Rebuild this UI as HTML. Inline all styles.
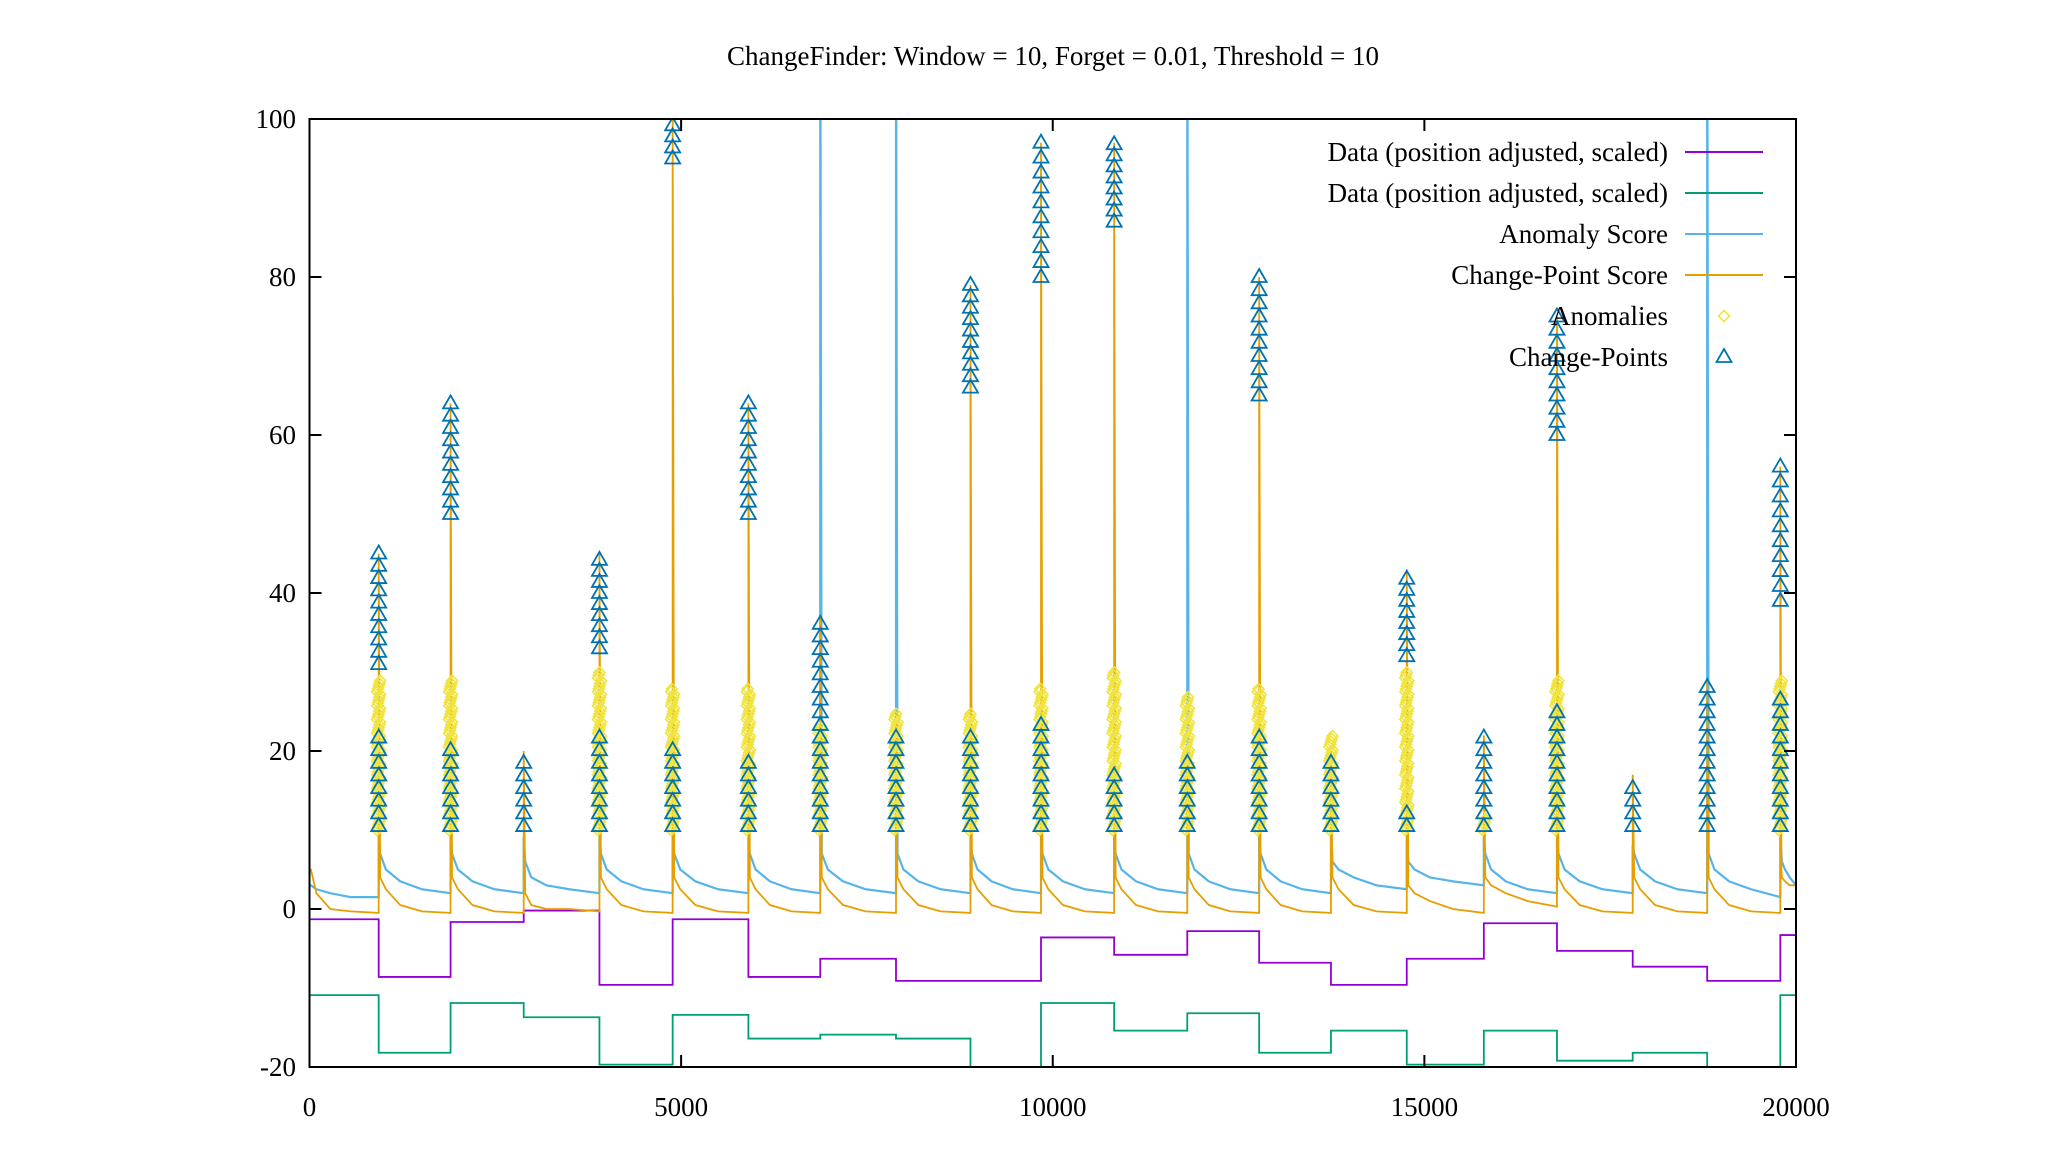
<!DOCTYPE html>
<html><head><meta charset="utf-8"><style>
html,body{margin:0;padding:0;background:#fff;}
svg{display:block;font-family:"Liberation Serif",serif;}
</style></head><body>
<svg id="chart" width="2048" height="1152" viewBox="0 0 2048 1152" xmlns="http://www.w3.org/2000/svg">
<defs><clipPath id="plotclip"><rect x="309.5" y="119" width="1486.5" height="948"/></clipPath></defs>
<text x="1053" y="65" font-size="27" text-anchor="middle">ChangeFinder: Window = 10, Forget = 0.01, Threshold = 10</text>
<g id="series" clip-path="url(#plotclip)"></g>
<g id="axes"></g>
<g id="legend"></g>
</svg>
<script>
const changeX=[0,931,1898,2882,3901,4886,5905,6872,7891,8893,9842,10826,11810,12777,13743,14763,15800,16784,17803,18805,19789,20000];
const purpleLevels=[-1.3,-8.6,-1.65,-0.2,-9.6,-1.3,-8.6,-6.3,-9.1,-9.1,-3.6,-5.8,-2.8,-6.8,-9.6,-6.3,-1.8,-5.3,-7.3,-9.1,-3.3];
const greenLevels=[-10.9,-18.2,-11.9,-13.7,-19.7,-13.4,-16.4,-15.9,-16.4,-21,-11.9,-15.4,-13.2,-18.2,-15.4,-19.7,-15.4,-19.2,-18.2,-21,-10.9];
const cpPeak=[45,64,20,45,100,64,37,25,79,97,97,20,80,20,43,22,75,17,29,56];
const cpUpperLow=[31,50,0,33,95,50,0,0,66,80,87,0,65,0,32,0,60,0,0,39];
const cpLowerTop=[23,21,19,22,21,20,37,23,23,24,18,20,22,20,13,22,25,16,29,27];
const anomHigh=[29,29,11,30,28,28,23,25,25,28,30,27,28,22,30,12,29,11,11,29];
const anomSpike=[10,10,9,10,10,9,120,120,9,10,9,120,9,10,9,9,9,8,120,9];
const sampleFrac=[0.02,0.1,0.3,0.6,1.0];
const anomSamples=[[3,2.5,2,1.5,1.5],[7,5,3.5,2.5,2],[7,5,3.5,2.5,2],[6,4,3,2.5,2],[7,5,3.5,2.5,2],[7,5,3.5,2.5,2],[7,5,3.5,2.5,2],[7,5,3.5,2.5,2],[7,5,3.5,2.5,2],[7,5,3.5,2.5,2],[7,5,3.5,2.5,2],[7,5,3.5,2.5,2],[7,5,3.5,2.5,2],[7,5,3.5,2.5,2],[6,5,4,3,2.5],[6,5,4,3.5,3],[7,5,3.5,2.5,2],[7,5,3.5,2.5,2],[7,5,3.5,2.5,2],[7,5,3.5,2.5,1.5],[7,6,5,4,3]];
const cpSamples=[[5,2,0,-0.3,-0.5],[4,2.5,0.5,-0.3,-0.5],[4,2.5,0.5,-0.3,-0.5],[2,0.5,0,0,-0.3],[4,2.5,0.5,-0.3,-0.5],[4,2.5,0.5,-0.3,-0.5],[4,2.5,0.5,-0.3,-0.5],[4,2.5,0.5,-0.3,-0.5],[4,2.5,0.5,-0.3,-0.5],[4,2.5,0.5,-0.3,-0.5],[4,2.5,0.5,-0.3,-0.5],[4,2.5,0.5,-0.3,-0.5],[4,2.5,0.5,-0.3,-0.5],[4,2.5,0.5,-0.3,-0.5],[4,2.5,0.5,-0.3,-0.5],[3,2,1,0,-0.5],[4,3,2,1,0.3],[4,2.5,0.5,-0.3,-0.5],[4,2.5,0.5,-0.3,-0.5],[4,2.5,0.5,-0.3,-0.5],[5,4,3.5,3,3]];
const xTicks=[0,5000,10000,15000,20000];
const yTicks=[-20,0,20,40,60,80,100];
const legendLabels=["Data (position adjusted, scaled)","Data (position adjusted, scaled)","Anomaly Score","Change-Point Score","Anomalies","Change-Points"];

const NS="http://www.w3.org/2000/svg";
const L=309.5,R=1796,T=119,B=1067;
const xs=v=>L+v/20000*(R-L);
const ys=v=>B-(v+20)/120*(B-T);
const C={purple:"#9400d3",green:"#009e73",blue:"#56b4e9",orange:"#e69f00",yellow:"#f0e442",tri:"#0072b2"};
function mk(tag,attrs,parent){const e=document.createElementNS(NS,tag);for(const k in attrs)e.setAttribute(k,attrs[k]);parent.appendChild(e);return e;}
const series=document.getElementById('series'),axes=document.getElementById('axes'),legend=document.getElementById('legend');

function stepPath(levels){let d="";for(let i=0;i<levels.length;i++){const y=ys(levels[i]);d+=(i?"L":"M")+xs(changeX[i])+","+y+"L"+xs(changeX[i+1])+","+y;}return d;}
let p=mk('path',{d:stepPath(purpleLevels),fill:"none",stroke:C.purple,"stroke-width":1.8},series);


p=mk('path',{d:stepPath(greenLevels),fill:"none",stroke:C.green,"stroke-width":1.8},series);



function scorePath(spikes,samples){let d="";for(let s=0;s<samples.length;s++){const a=changeX[s],b=changeX[s+1];if(s>0){d+="L"+xs(a)+","+ys(spikes[s-1]);}else{d+="M"+xs(a)+","+ys(samples[0][0]);}
for(let j=0;j<sampleFrac.length;j++){const x=a+Math.max(15,(b-a)*sampleFrac[j]);d+="L"+xs(Math.min(x,b))+","+ys(samples[s][j]);}}return d;}
p=mk('path',{d:scorePath(anomSpike,anomSamples),fill:"none",stroke:C.blue,"stroke-width":2.2,"stroke-linejoin":"round"},series);


p=mk('path',{d:scorePath(cpPeak,cpSamples),fill:"none",stroke:C.orange,"stroke-width":1.8},series);



function diamond(cx,cy,par){const r=5.5;return mk('path',{d:`M${cx},${cy-r}L${cx+r},${cy}L${cx},${cy+r}L${cx-r},${cy}Z`,fill:"none",stroke:C.yellow,"stroke-width":1.6},par);}
function tri(cx,cy,par){return mk('path',{d:`M${cx},${cy-8}L${cx+7.5},${cy+5}L${cx-7.5},${cy+5}Z`,fill:"none",stroke:C.tri,"stroke-width":1.8},par);}
for(let i=0;i<cpPeak.length;i++){
  const bx=changeX[i+1];
  const g=mk('g',{},series);
  
  
  if(anomHigh[i]>11){let k=0;for(let v=10;v<=anomHigh[i];v+=0.35){diamond(xs(bx+((k%5)-2)*10),ys(v),g);k++;}}
  const g2=mk('g',{},series);
  
  
  for(let v=10.5;v<=Math.min(cpLowerTop[i],cpPeak[i]);v+=1.6){tri(xs(bx),ys(v),g2);}
  if(cpUpperLow[i]>0){for(let v=cpUpperLow[i];v<=cpPeak[i]+0.1;v+=Math.max(1.4,(cpPeak[i]-cpUpperLow[i])/9)){tri(xs(bx),ys(v),g2);}}
}

const frame=mk('rect',{x:L,y:T,width:R-L,height:B-T,fill:"none",stroke:"#000","stroke-width":2},axes);


xTicks.forEach(v=>{const x=xs(v);mk('line',{x1:x,x2:x,y1:B,y2:B-12,stroke:"#000","stroke-width":2},axes);mk('line',{x1:x,x2:x,y1:T,y2:T+12,stroke:"#000","stroke-width":2},axes);
 const t=mk('text',{x:x,y:B+49,"font-size":27,"text-anchor":"middle"},axes);t.textContent=v;
 
 });
yTicks.forEach(v=>{const y=ys(v);mk('line',{x1:L,x2:L+12,y1:y,y2:y,stroke:"#000","stroke-width":2},axes);mk('line',{x1:R,x2:R-12,y1:y,y2:y,stroke:"#000","stroke-width":2},axes);
 const t=mk('text',{x:296,y:y+9,"font-size":27,"text-anchor":"end"},axes);t.textContent=v;
 
 });

const legY=[152,193,234,275,316,357];
const legColors=[C.purple,C.green,C.blue,C.orange,null,null];
legendLabels.forEach((lab,i)=>{const g=mk('g',{},legend);
 
 
 const t=mk('text',{x:1668,y:legY[i]+9,"font-size":27,"text-anchor":"end"},g);t.textContent=lab;
 if(legColors[i])mk('line',{x1:1685,x2:1763,y1:legY[i],y2:legY[i],stroke:legColors[i],"stroke-width":2},g);
 else if(i==4)diamond(1724,legY[i],g);else tri(1724,legY[i],g);});
</script>
</body></html>
